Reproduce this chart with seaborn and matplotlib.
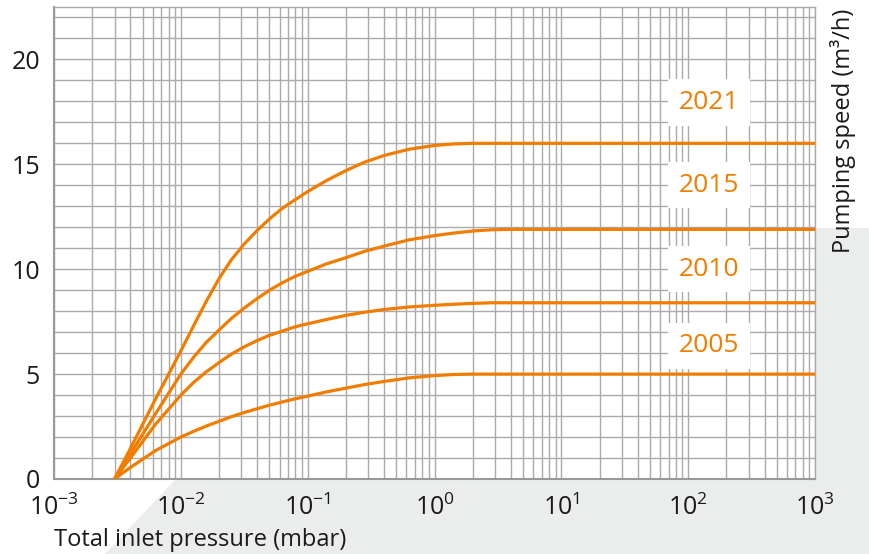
import matplotlib
matplotlib.use("Agg")
import matplotlib.pyplot as plt
from matplotlib.patches import Polygon
from matplotlib.ticker import LogLocator, FixedLocator, MultipleLocator, NullFormatter
import seaborn as sns
import pandas as pd

# pressure grid (mbar) shared by all curves
pressure = [0.003, 0.004, 0.0063, 0.01, 0.0126, 0.0158, 0.02, 0.025, 0.0316, 0.04,
            0.05, 0.063, 0.079, 0.1, 0.14, 0.2, 0.28, 0.4, 0.63, 1.0,
            1.4, 2.0, 2.8, 4.0, 1000.0]
# pumping speed (m3/h)
speed_2021 = [0, 1.45, 3.8, 6.1, 7.3, 8.45, 9.55, 10.45, 11.2, 11.85,
              12.4, 12.9, 13.3, 13.7, 14.22, 14.7, 15.1, 15.42, 15.72, 15.9,
              15.97, 16.0, 16.0, 16.0, 16.0]
speed_2015 = [0, 1.2, 3.1, 5.0, 5.8, 6.5, 7.1, 7.65, 8.15, 8.6,
              9.0, 9.35, 9.65, 9.9, 10.25, 10.55, 10.85, 11.1, 11.4, 11.6,
              11.72, 11.82, 11.88, 11.9, 11.9]
speed_2010 = [0, 1.0, 2.6, 4.0, 4.6, 5.1, 5.55, 5.95, 6.3, 6.6,
              6.85, 7.05, 7.25, 7.4, 7.6, 7.8, 7.95, 8.08, 8.2, 8.28,
              8.33, 8.37, 8.4, 8.4, 8.4]
speed_2005 = [0, 0.55, 1.35, 2.0, 2.27, 2.52, 2.75, 2.97, 3.17, 3.35,
              3.52, 3.67, 3.82, 3.95, 4.15, 4.33, 4.5, 4.65, 4.82, 4.93,
              4.98, 5.0, 5.0, 5.0, 5.0]

years = ["2021", "2015", "2010", "2005"]
label_y = [17.95, 14.0, 10.0, 6.35]
label_x = 146

x_ticks = [1e-3, 1e-2, 1e-1, 1e0, 1e1, 1e2, 1e3]
x_ticklabels = ["10$^{-3}$", "10$^{-2}$", "10$^{-1}$", "10$^{0}$", "10$^{1}$", "10$^{2}$", "10$^{3}$"]
y_ticks = [0, 5, 10, 15, 20]

orange = "#f07d00"
grid_col = "#ababab"

# long table for seaborn
frames = []
for yr, sp in zip(years, [speed_2021, speed_2015, speed_2010, speed_2005]):
    frames.append(pd.DataFrame({"pressure": pressure, "speed": sp, "year": yr}))
df = pd.concat(frames, ignore_index=True)

sns.set_style("white")
plt.rcParams["font.family"] = ["Open Sans", "DejaVu Sans"]
plt.rcParams["mathtext.fontset"] = "custom"
plt.rcParams["mathtext.rm"] = "Open Sans"
plt.rcParams["mathtext.it"] = "Open Sans"

fig = plt.figure(figsize=(8.69, 5.54), dpi=100)
ax = fig.add_axes([54 / 869, 1 - 479 / 554, (815 - 54) / 869, (479 - 7) / 554])

# grey backdrop shape behind the axes
pts = [(105, 554), (175, 480), (427, 228), (869, 228), (869, 554)]
poly = Polygon([(px / 869, 1 - py / 554) for px, py in pts], closed=True,
               transform=fig.transFigure, facecolor="#ebecec", edgecolor="none", zorder=-5)
fig.add_artist(poly)

sns.lineplot(data=df, x="pressure", y="speed", hue="year", ax=ax,
             palette={yr: orange for yr in years}, legend=False,
             linewidth=2.3, estimator=None, sort=False, zorder=3,
             solid_joinstyle="round")

ax.set_xscale("log")
ax.set_xlim(1e-3, 1e3)
ax.set_ylim(0, 22.5)

ax.xaxis.set_major_locator(FixedLocator(x_ticks))
ax.set_xticklabels(x_ticklabels)
ax.xaxis.set_minor_locator(LogLocator(base=10, subs=range(2, 10), numticks=100))
ax.xaxis.set_minor_formatter(NullFormatter())
ax.set_yticks(y_ticks)
ax.yaxis.set_minor_locator(MultipleLocator(1))

ax.grid(True, which="both", color=grid_col, linewidth=1.0, zorder=0)
ax.set_axisbelow(True)

ax.tick_params(axis="both", which="major", labelsize=18, colors="#999999",
               labelcolor="#1a1a1a", length=5, width=1.5, direction="out")
ax.tick_params(axis="x", which="major", pad=6)
ax.tick_params(axis="y", which="major", pad=5)
ax.tick_params(which="minor", length=0)

for side in ["left", "bottom"]:
    ax.spines[side].set_color("#999999")
    ax.spines[side].set_linewidth(1.5)
for side in ["top", "right"]:
    ax.spines[side].set_color(grid_col)
    ax.spines[side].set_linewidth(1.0)

ax.set_xlabel("")
ax.set_ylabel("")

# year labels on white boxes
for yr, ly in zip(years, label_y):
    ax.text(label_x, ly, yr, color=orange, fontsize=19, ha="center", va="center",
            zorder=4, bbox=dict(boxstyle="square,pad=0.4", facecolor="white", edgecolor="none"))

fig.text(54 / 869, 1 - 546 / 554, "Total inlet pressure (mbar)", fontsize=17,
         color="#1a1a1a", ha="left", va="baseline")
fig.text(843 / 869, 1 - 131 / 554, "Pumping speed (m³/h)", fontsize=17,
         color="#1a1a1a", rotation=90, ha="center", va="center")

fig.savefig("out.png", dpi=100)
